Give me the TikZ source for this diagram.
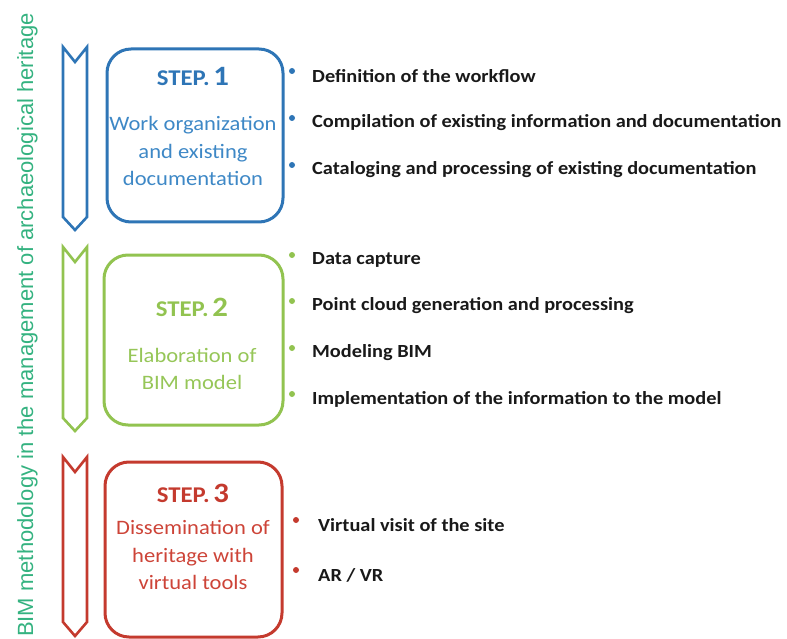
\documentclass[tikz,border=0pt]{standalone}
\usepackage{fontspec}
\setmainfont{Carlito}[FakeStretch=1.1]
\newfontfamily\sidefont{Liberation Sans}
\definecolor{stepblue}{RGB}{46,117,182}
\definecolor{stepbluetext}{RGB}{62,136,198}
\definecolor{stepgreen}{RGB}{146,195,80}
\definecolor{stepgreentext}{RGB}{150,198,88}
\definecolor{stepred}{RGB}{196,58,46}
\definecolor{stepredtext}{RGB}{205,68,56}
\definecolor{sideteal}{RGB}{52,178,128}
\definecolor{itemtext}{RGB}{25,25,25}
\newcommand\stepnum[1]{{\fontsize{28}{30}\selectfont #1}}
\begin{document}
\begin{tikzpicture}[x=1pt,y=-1pt,
  chevron/.style={line width=2.6pt,line join=miter},
  stepbox/.style={line width=3pt,rounded corners=24pt},
  stephead/.style={font=\bfseries\fontsize{22.5}{24}\selectfont,inner sep=0pt},
  stepbody/.style={font=\fontsize{20.5}{27.5}\selectfont,align=center,inner sep=0pt},
  itemdot/.style={circle,inner sep=0pt,minimum size=6pt},
  itemlabel/.style={anchor=west,inner sep=0pt,text=itemtext,
    font=\bfseries\fontsize{18.5}{20}\selectfont}
]
\useasboundingbox (0,0) rectangle (787,639);

% vertical caption
\node[rotate=90,anchor=base,inner sep=0pt,text=sideteal,
      font=\sidefont\fontsize{22}{24}\selectfont] (caption) at (33,325)
  {BIM methodology in the management of archaeological heritage};

% ---- step 1 ----
\draw[chevron,stepblue] (63,47) -- (75,62) -- (87,47) -- (87,217) -- (75,230) -- (63,217) -- cycle;
\draw[stepbox,stepblue] (107,49) rectangle (283,222);
\node[stephead,text=stepblue] (s1head) at (193,76) {STEP.\,\stepnum{1}};
\node[stepbody,text=stepbluetext] (s1body) at (193,151)
  {Work organization\\and existing\\documentation};
\foreach \y/\t [count=\i] in {76/Definition of the workflow,
    123/Compilation of existing information and documentation,
    170/Cataloging and processing of existing documentation}{
  \node[itemdot,fill=stepblue] (d1\i) at (292,\y-5) {};
  \node[itemlabel] (t1\i) at (312,\y) {\t};
}

% ---- step 2 ----
\draw[chevron,stepgreen] (63,247) -- (75,262) -- (87,247) -- (87,418) -- (75,431) -- (63,418) -- cycle;
\draw[stepbox,stepgreen] (104,255) rectangle (283,425);
\node[stephead,text=stepgreen] (s2head) at (192,307) {STEP.\,\stepnum{2}};
\node[stepbody,text=stepgreentext] (s2body) at (192,369)
  {Elaboration of\\BIM model};
\foreach \y/\t [count=\i] in {260/Data capture,
    306/Point cloud generation and processing,
    353/Modeling BIM,
    399/Implementation of the information to the model}{
  \node[itemdot,fill=stepgreen] (d2\i) at (292,\y-5) {};
  \node[itemlabel] (t2\i) at (312,\y) {\t};
}

% ---- step 3 ----
\draw[chevron,stepred] (63,457) -- (75,472) -- (87,457) -- (87,622) -- (75,636) -- (63,622) -- cycle;
\draw[stepbox,stepred] (105,462) rectangle (282,637);
\node[stephead,text=stepred] (s3head) at (193,493) {STEP.\,\stepnum{3}};
\node[stepbody,text=stepredtext] (s3body) at (193,555)
  {Dissemination of\\heritage with\\virtual tools};
\foreach \y/\t [count=\i] in {525/{Virtual visit of the site}, 575/{AR / VR}}{
  \node[itemdot,fill=stepred] (d3\i) at (296,\y-5) {};
  \node[itemlabel] (t3\i) at (318,\y) {\t};
}
\end{tikzpicture}
\end{document}
